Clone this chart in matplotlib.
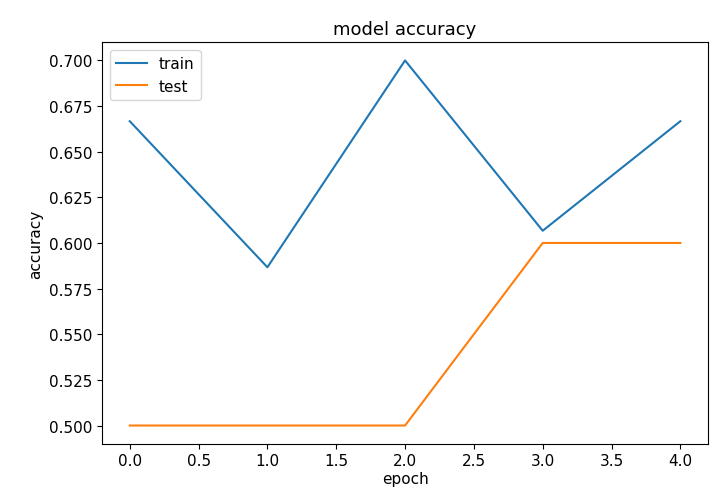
import matplotlib
matplotlib.use("Agg")
import matplotlib.pyplot as plt

epochs = [0, 1, 2, 3, 4]
train_acc = [0.6667, 0.5867, 0.7000, 0.6067, 0.6667]
test_acc = [0.5000, 0.5000, 0.5000, 0.6000, 0.6000]

plt.rcParams['font.size'] = 11
fig = plt.figure(figsize=(7.1, 5.02), dpi=100)
ax = fig.add_axes([0.144, 0.114, 0.853, 0.8])
ax.plot(epochs, train_acc, label='train', linewidth=1.5)
ax.plot(epochs, test_acc, label='test', linewidth=1.5)
ax.set_title('model accuracy', fontsize=13)
ax.set_ylabel('accuracy')
ax.set_xlabel('epoch', labelpad=2)
ax.legend(loc='upper left')
fig.savefig('out.png')
